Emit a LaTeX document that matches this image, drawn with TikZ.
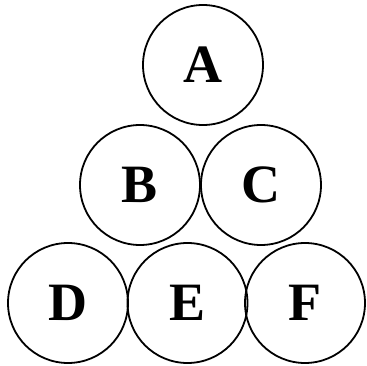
\documentclass[tikz,border=0pt]{standalone}
\usepackage{fontspec}
\setmainfont{Liberation Serif}
\begin{document}
\begin{tikzpicture}[x=1pt,y=-1pt,
  ball/.style={circle,draw=black,line width=1.8pt,minimum size=120pt,inner sep=0pt,
    font=\fontsize{54}{60}\selectfont\bfseries}]
\useasboundingbox (0,0) rectangle (367,366);
\node[ball] (A) at (203,65) {A};
\node[ball] (B) at (140,185) {B};
\node[ball] (C) at (261,185) {C};
\node[ball] (D) at (68,303) {D};
\node[ball] (E) at (187.5,303) {E};
\node[ball] (F) at (305,303) {F};
\end{tikzpicture}
\end{document}
